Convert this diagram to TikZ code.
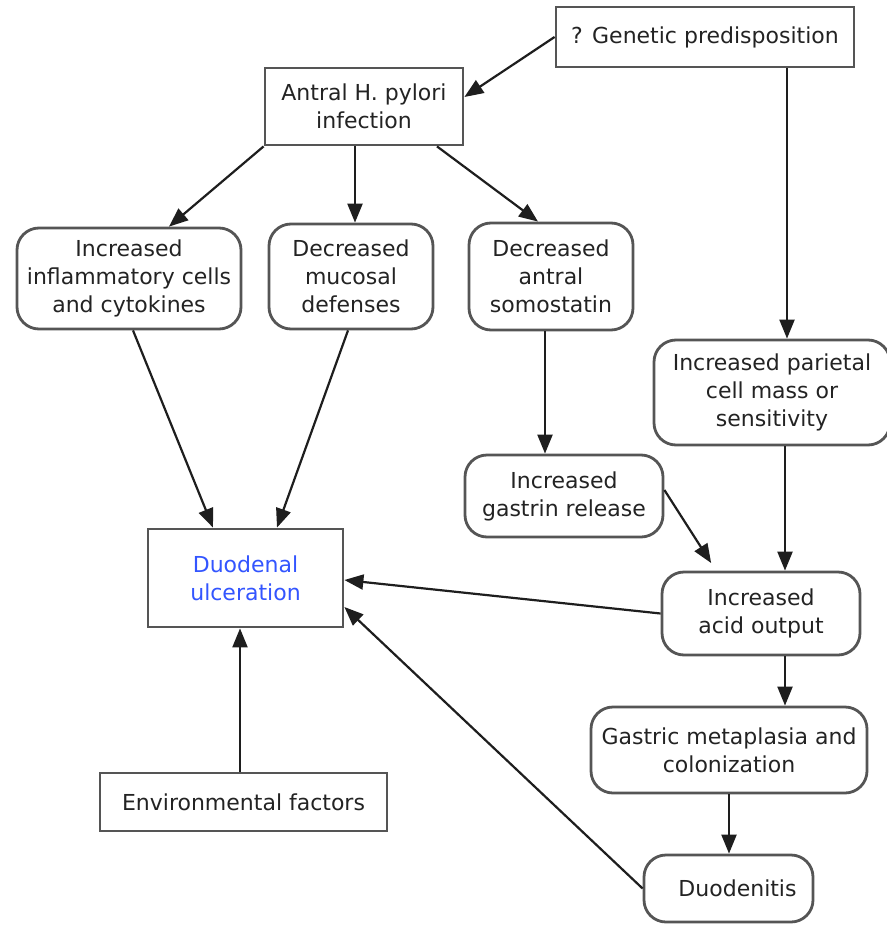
\documentclass[tikz,border=0pt]{standalone}
\usepackage{fontspec}
\setmainfont{DejaVu Sans}
\usetikzlibrary{arrows.meta}
\definecolor{boxgray}{RGB}{85,85,85}
\definecolor{txt}{RGB}{35,35,35}
\definecolor{arrc}{RGB}{30,30,30}
\definecolor{ulcblue}{RGB}{51,85,255}
\begin{document}
\begin{tikzpicture}[x=1pt,y=-1pt,
  box/.style={draw=boxgray,line width=2.8pt,fill=white,inner sep=0pt,align=center,text=txt,font=\fontsize{22}{28}\selectfont},
  rbox/.style={box,rounded corners=22pt},
  arr/.style={draw=arrc,line width=2.2pt,-{Triangle[length=19pt,width=15pt]}}]
\useasboundingbox[fill=white] (0,0) rectangle (886,926);

\node[box,minimum width=298pt,minimum height=60pt] (gen) at (705,37) {? Genetic predisposition};
\node[box,minimum width=198pt,minimum height=77pt] (hp) at (364,106.5) {Antral H. pylori\\infection};
\node[rbox,minimum width=224pt,minimum height=101pt] (infl) at (129,278.5) {Increased\\inflammatory cells\\and cytokines};
\node[rbox,minimum width=164pt,minimum height=105pt] (muc) at (351,276.5) {Decreased\\mucosal\\defenses};
\node[rbox,minimum width=164pt,minimum height=107pt] (som) at (551,276.5) {Decreased\\antral\\somostatin};
\node[rbox,minimum width=236pt,minimum height=105pt] (par) at (772,392.5) {Increased parietal\\cell mass or\\sensitivity};
\node[rbox,minimum width=198pt,minimum height=82pt] (gas) at (564,496) {Increased\\gastrin release};
\node[rbox,minimum width=198pt,minimum height=83pt] (acid) at (761,613.5) {Increased\\acid output};
\node[rbox,minimum width=276pt,minimum height=86pt] (meta) at (729,750) {Gastric metaplasia and\\colonization};
\node[rbox,minimum width=169pt,minimum height=67pt,text width=169pt] (duod) at (728.5,888.5) {\hspace*{18pt}Duodenitis};
\node[box,minimum width=195pt,minimum height=98pt,text=ulcblue] (ulc) at (245.5,578) {Duodenal\\ulceration};
\node[box,minimum width=287pt,minimum height=58pt] (env) at (243.5,802) {Environmental factors};

\draw[arr] (gen.west) -- ([yshift=9.5pt]hp.east);
\draw[arr] ([xshift=82pt]gen.south) -- ([xshift=15pt]par.north);
\draw[arr] (hp.south west) -- ([xshift=40pt]infl.north);
\draw[arr] ([xshift=-9pt]hp.south) -- ([xshift=4pt]muc.north);
\draw[arr] ([xshift=73pt]hp.south) -- ([xshift=-13pt]som.north);
\draw[arr] ([xshift=-6pt]som.south) -- ([xshift=-19pt]gas.north);
\draw[arr] ([xshift=4pt]infl.south) -- ([xshift=-32.5pt]ulc.north);
\draw[arr] ([xshift=-3pt]muc.south) -- ([xshift=31.5pt]ulc.north);
\draw[arr,shorten >=9pt] ([yshift=6pt]gas.east) -- ([xshift=-45pt]acid.north);
\draw[arr] ([xshift=13pt]par.south) -- ([xshift=24pt]acid.north);
\draw[arr] (acid.west) -- ([yshift=-2pt]ulc.east);
\draw[arr] ([xshift=24pt]acid.south) -- ([xshift=56pt]meta.north);
\draw[arr] (meta.south) -- ([xshift=0.5pt]duod.north);
\draw[arr] (duod.west) -- ([yshift=-29pt]ulc.east);
\draw[arr] ([xshift=-3.5pt]env.north) -- ([xshift=-5.5pt]ulc.south);
\end{tikzpicture}
\end{document}
